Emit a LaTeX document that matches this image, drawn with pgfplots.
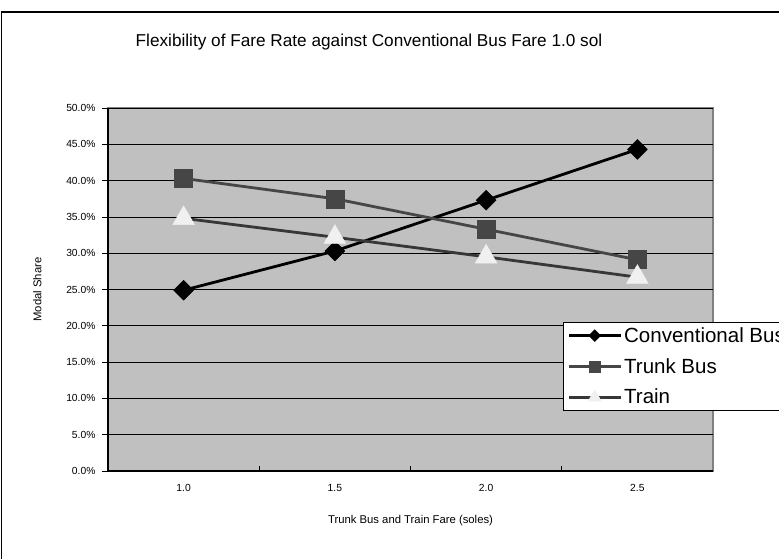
\documentclass[border=0pt]{standalone}
\usepackage{fontspec}
\setmainfont{Liberation Sans}
\usepackage{pgfplots}
\pgfplotsset{compat=1.18}
\definecolor{plotbg}{RGB}{192,192,192}
\definecolor{trunk}{RGB}{70,70,70}
\definecolor{trainline}{RGB}{55,55,55}
\definecolor{trainmark}{RGB}{240,240,240}
\definecolor{edge}{RGB}{128,128,128}

\begin{document}
\begin{tikzpicture}
\path[use as bounding box] (0pt,0pt) rectangle (779pt,558pt);
\clip (0pt,0pt) rectangle (779pt,558pt);
% chart frame
\draw[black, line width=1.3pt] (1.5pt,-20pt) -- (1.5pt,546pt) -- (820pt,546pt);
% title
\node[font=\fontsize{17.2}{20}\selectfont] at (369pt,516pt)
  {Flexibility of Fare Rate against Conventional Bus Fare 1.0 sol};

\begin{axis}[
  at={(108pt,87pt)}, anchor=south west,
  scale only axis, width=605pt, height=363pt,
  xmin=-0.5, xmax=3.5, ymin=0, ymax=50,
  axis background/.style={fill=plotbg, draw=edge, line width=1.5pt},
  axis x line*=bottom, axis y line*=left,
  axis line style={black, line width=1.3pt, -},
  tick align=outside,
  xtick={0,1,2,3}, xticklabels={1.0,1.5,2.0,2.5},
  major x tick style={draw=none},
  minor xtick={0.5,1.5,2.5},
  minor tick length=5pt,
  minor x tick style={black, line width=0.8pt, yshift=5pt},
  ytick={0,5,...,50},
  major tick length=6pt,
  major y tick style={black, line width=0.8pt},
  yticklabel={\pgfmathprintnumber[fixed,fixed zerofill,precision=1,assume math mode=true]{\tick}\%},
  ymajorgrids, major grid style={black, line width=0.8pt},
  ticklabel style={font=\fontsize{10.3}{12}\selectfont},
  xticklabel style={yshift=-4pt},
  yticklabel style={xshift=-3pt},
  xlabel={Trunk Bus and Train Fare (soles)},
  ylabel={Modal Share},
  label style={font=\fontsize{11.3}{13}\selectfont},
  xlabel style={yshift=-17pt},
  ylabel style={yshift=18pt},
  legend cell align=left,
  legend style={at={(0.752,0.4105)}, anchor=north west,
    draw=black, fill=white, line width=0.8pt,
    font=\fontsize{20.5}{22}\selectfont,
    row sep=10.5pt, inner xsep=4pt, inner ysep=3pt},
  legend image code/.code={%
    \draw[#1, every mark/.append style={scale=0.6}, mark repeat=2, mark phase=2]
      plot coordinates {(0pt,0pt) (26pt,0pt) (52pt,0pt)};},
]
\addplot[black, line width=2.8pt, mark=square*,
  mark options={rotate=45, fill=black, line width=0.5pt}, mark size=7pt]
  coordinates {(0,24.9) (1,30.3) (2,37.3) (3,44.3)};
\addlegendentry{Conventional Bus}
\addplot[trunk, line width=2.8pt, mark=square*,
  mark options={fill=trunk, draw=trunk, line width=0.5pt}, mark size=9pt]
  coordinates {(0,40.3) (1,37.5) (2,33.3) (3,29.1)};
\addlegendentry{Trunk Bus}
\addplot[trainline, line width=2.8pt, mark=triangle*,
  mark options={fill=trainmark, draw=trainmark, line width=0.5pt}, mark size=12.5pt]
  coordinates {(0,34.8) (1,32.2) (2,29.5) (3,26.7)};
\addlegendentry{Train}
\end{axis}
\end{tikzpicture}
\end{document}
